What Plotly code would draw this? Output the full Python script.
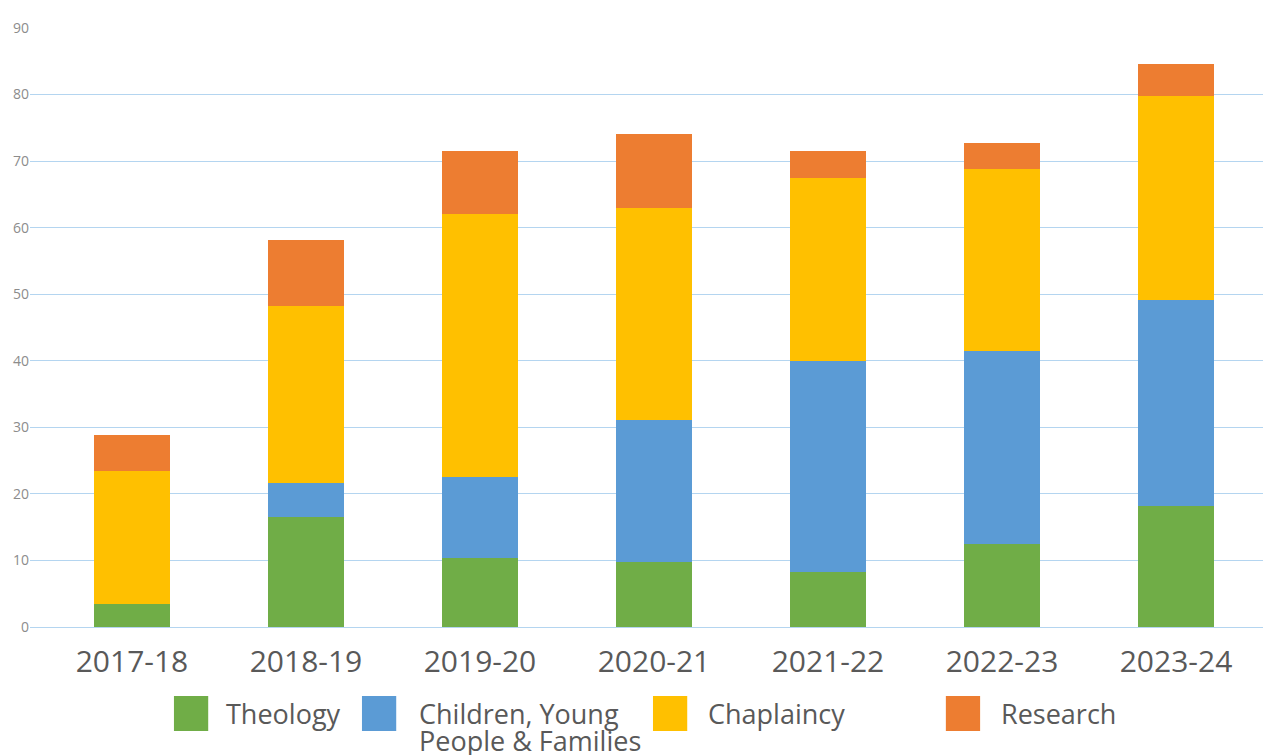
import plotly.graph_objs as go
import numpy as np

YEARS = ['2017-18', '2018-19', '2019-20', '2020-21', '2021-22', '2022-23', '2023-24']

VALUES = {
    'Theology': [3.5, 16.5, 10.4, 9.8, 8.3, 12.5, 18.2],
    'Children, Young<br>People & Families': [0, 5.2, 12.1, 21.3, 31.7, 29.0, 30.9],
    'Chaplaincy': [20.0, 26.6, 39.5, 31.9, 27.5, 27.3, 30.7],
    'Research': [5.4, 9.8, 9.5, 11.1, 4.0, 3.9, 4.8],
}

COLORS = ['#70AD47', '#5B9BD5', '#FFC000', '#ED7D31']

# legend swatches (paper x of left edge) and label positions
LEGEND_X = [0.116, 0.2675, 0.502, 0.738]
LABEL_X = [0.156, 0.312, 0.545, 0.781]

FONT = 'Open Sans'

def plot_stacked():

    def g(a):
        name, color = a
        return go.Bar(
            x = YEARS,
            y = np.array(VALUES[name]),
            name = name,
            width = 0.437,
            marker = dict(color=color, line=dict(width=0)),
            showlegend = False
        )

    data = list(map(g, zip(VALUES.keys(), COLORS)))

    shapes = []
    annotations = []
    for name, color, sx, lx in zip(VALUES.keys(), COLORS, LEGEND_X, LABEL_X):
        shapes.append(dict(
            type='rect', xref='paper', yref='paper',
            x0=sx, x1=sx + 0.0276, y0=-0.1736, y1=-0.1152,
            fillcolor=color, line=dict(width=0),
        ))
        for i, line in enumerate(name.split('<br>')):  # tight line spacing, as in the original
            annotations.append(dict(
                text=line, xref='paper', yref='paper',
                x=lx, y=-0.1436 - i * 0.0455, xanchor='left', yanchor='middle',
                align='left', showarrow=False,
                font=dict(family=FONT, size=27, color='#595959'),
            ))

    layout = go.Layout(
        width=1263,
        height=747,
        barmode='stack',
        plot_bgcolor='white',
        paper_bgcolor='white',
        margin=dict(l=22, r=0, t=20, b=128),
        xaxis=dict(
            range=[-0.586, 6.546],
            showgrid=False,
            zeroline=False,
            ticks='outside',
            ticklen=8,
            tickcolor='rgba(0,0,0,0)',
            tickfont=dict(family=FONT, size=30, color='#595959'),
        ),
        yaxis=dict(
            range=[0, 90],
            dtick=10,
            showgrid=True,
            gridcolor='#B4D5F0',
            gridwidth=1,
            zeroline=True,
            zerolinecolor='#B4D5F0',
            zerolinewidth=1,
            tickfont=dict(family=FONT, size=14, color='#8C8C8C'),
        ),
        shapes=shapes,
        annotations=annotations,
    )

    fig = go.Figure(data=data, layout=layout)

    fig.write_html('out.html')

plot_stacked()
